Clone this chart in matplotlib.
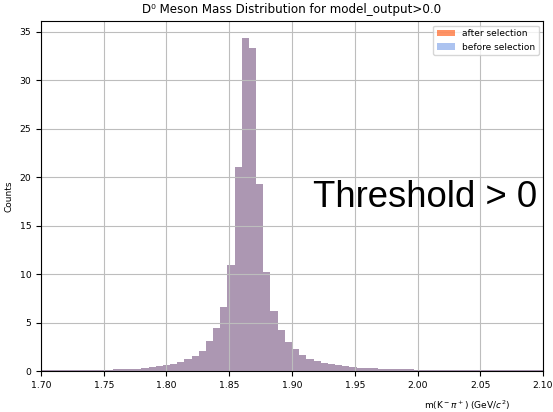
import numpy as np
import matplotlib
matplotlib.use("Agg")
import matplotlib.pyplot as plt

# Histogram definition (70 bins over 1.70-2.10 GeV/c^2)
mass_min, mass_max, n_bins = 1.70, 2.10, 70

# Bin heights (identical for both selections)
counts = [
    0.08, 0.08, 0.09, 0.09, 0.10, 0.10, 0.11, 0.12, 0.13, 0.14,
    0.16, 0.18, 0.20, 0.24, 0.30, 0.38, 0.48, 0.60, 0.72, 0.92,
    1.20, 1.55, 2.10, 3.10, 4.40, 6.60, 10.90, 21.10, 34.40, 33.30,
    19.30, 10.20, 6.20, 4.20, 3.00, 2.23, 1.65, 1.26, 1.05, 0.85,
    0.69, 0.59, 0.49, 0.41, 0.35, 0.31, 0.27, 0.24, 0.21, 0.19,
    0.17, 0.16, 0.15, 0.15, 0.14, 0.14, 0.13, 0.13, 0.12, 0.12,
    0.12, 0.11, 0.11, 0.11, 0.10, 0.10, 0.10, 0.10, 0.09, 0.09,
]
after_counts = counts
before_counts = counts

x_ticks = [1.70, 1.75, 1.80, 1.85, 1.90, 1.95, 2.00, 2.05, 2.10]
y_ticks = [0, 5, 10, 15, 20, 25, 30, 35]

edges = np.linspace(mass_min, mass_max, n_bins + 1)
centers = 0.5 * (edges[:-1] + edges[1:])

base = 6.7
fig = plt.figure(figsize=(5.53, 4.12), dpi=100)
ax = fig.add_axes([0.0741, 0.0995, 0.9079, 0.8495])

ax.hist(centers, bins=edges, weights=after_counts, color="#ff4c01", alpha=0.6,
        label="after selection")
ax.hist(centers, bins=edges, weights=before_counts, color="#769be6", alpha=0.6,
        label="before selection")

ax.set_xlim(mass_min, mass_max)
ax.set_xticks(x_ticks)
ax.set_xticklabels([f"{t:.2f}" for t in x_ticks])
ax.set_yticks(y_ticks)
ax.tick_params(labelsize=base)
ax.grid(True, color="#bdbdbd")

ax.set_title("D\u2070 Meson Mass Distribution for model_output>0.0", fontsize=8.6)
ax.set_ylabel("Counts", fontsize=6.5)
ax.set_xlabel(r"m(K$^-\pi^+$) (GeV/$c^2$)", fontsize=6.5)
ax.xaxis.set_label_coords(0.848, -0.078)

ax.legend(loc="upper right", fontsize=6.5)

ax.text(1.9167, 16.9, "Threshold > 0", fontsize=26.3, family="Liberation Sans",
        ha="left", va="baseline")

fig.savefig("out.png", dpi=100)
